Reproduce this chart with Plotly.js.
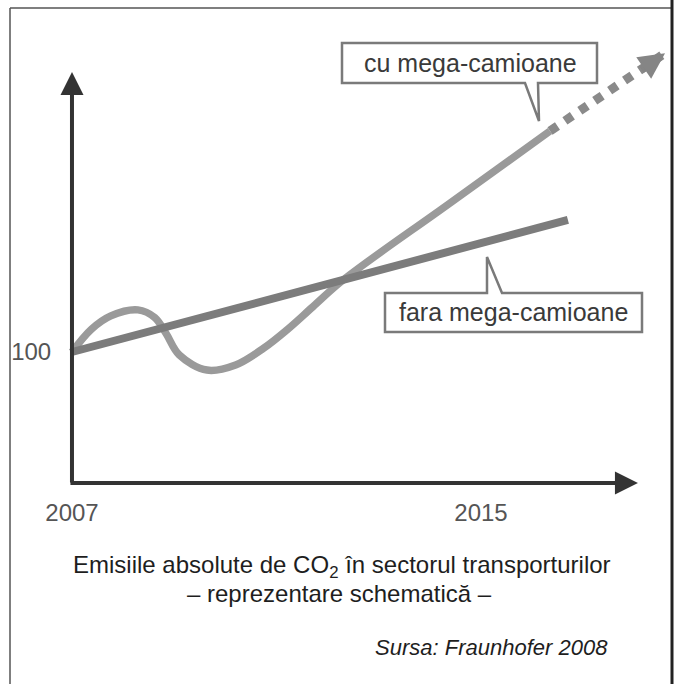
<!DOCTYPE html>
<html><head><meta charset="utf-8">
<script src="https://cdn.plot.ly/plotly-3.0.1.min.js"></script>
<style>html,body{margin:0;padding:0;background:#fff;}#chart{width:679px;height:684px;}</style>
</head><body><div id="chart"></div>
<script>
const W = 679, H = 684;
// ---- data (schematic values) ----
const tickYears = [2007, 2015];
const tickLabels = ['2007', '2015'];
const yTicks = [100];
const yTickLabels = ['100'];
const faraYears = [2007, 2016.7];
const faraValues = [100, 130.7];
const cuYears = [2007, 2007.38, 2007.76, 2008.29, 2008.62, 2008.84, 2009.1, 2009.64, 2010.2, 2010.75, 2011.2, 2011.71, 2012.3, 2014.39, 2016.35];
const cuValues = [100, 105.3, 108.4, 109.8, 108.0, 104.3, 99.3, 95.8, 97.0, 100.9, 105.1, 110.5, 116.7, 134.6, 151.4];
const cuProjYears = [2016.35, 2018.6];
const cuProjValues = [151.4, 169.5];
const axisX = [2006.96, 2018.07];   // horizontal axis extent (years)
const axisY = [69.53, 165.1];       // vertical axis extent (index)
const labelCu = 'cu mega-camioane';
const labelFara = 'fara mega-camioane';
const captionLine1 = 'Emisiile absolute de CO<sub>2</sub> în sectorul transporturilor';
const captionLine2 = '– reprezentare schematică –';
const sourceText = 'Sursa: Fraunhofer 2008';

const FONT = 'Liberation Sans, Arial, Helvetica, sans-serif';
const px = x => x / W;
const py = y => 1 - y / H;
const P = pts => 'M' + pts.map(p => px(p[0]) + ',' + py(p[1])).join(' L') + ' Z';

const traces = [
  {x: cuYears, y: cuValues, mode: 'lines', line: {color: '#9a9a9a', width: 7.5, shape: 'spline', smoothing: 1}, hoverinfo: 'skip'},
  {x: cuProjYears, y: cuProjValues, mode: 'lines', line: {color: '#8a8a8a', width: 9, dash: 'dot'}, hoverinfo: 'skip'},
  {x: faraYears, y: faraValues, mode: 'lines', line: {color: '#7c7c7c', width: 8}, hoverinfo: 'skip'}
];

const layout = {
  width: W, height: H,
  margin: {l: 0, r: 0, t: 0, b: 0},
  paper_bgcolor: '#fff', plot_bgcolor: 'rgba(0,0,0,0)',
  showlegend: false,
  font: {family: FONT},
  xaxis: {
    range: [2005.592, 2018.873], anchor: 'free', position: 1 - 481 / H,
    showline: false, showgrid: false, zeroline: false,
    tickmode: 'array', tickvals: tickYears, ticktext: tickLabels,
    ticks: 'outside', ticklen: 10, tickcolor: 'rgba(0,0,0,0)',
    tickfont: {size: 24, color: '#555', family: FONT}, fixedrange: true
  },
  yaxis: {
    range: [22.79, 181.86], anchor: 'free', position: 72 / W,
    showline: false, showgrid: false, zeroline: false,
    tickmode: 'array', tickvals: yTicks, ticktext: yTickLabels,
    ticks: 'outside', ticklen: 16, tickcolor: 'rgba(0,0,0,0)',
    tickfont: {size: 24, color: '#555', family: FONT}, fixedrange: true
  },
  shapes: [
    // page frame
    {type: 'line', xref: 'paper', yref: 'paper', x0: px(10), y0: py(8), x1: px(672), y1: py(8), line: {color: '#555', width: 1.5}},
    {type: 'line', xref: 'paper', yref: 'paper', x0: px(10), y0: py(8), x1: px(10), y1: py(684), line: {color: '#555', width: 1.5}},
    {type: 'line', xref: 'paper', yref: 'paper', x0: px(672), y0: py(0), x1: px(672), y1: py(684), line: {color: '#222', width: 3}},
    // callout boxes with pointers
    {type: 'path', xref: 'paper', yref: 'paper', layer: 'above',
     path: P([[342, 43], [597, 43], [597, 83], [538, 83], [539, 121], [525, 83], [342, 83]]),
     fillcolor: '#fff', line: {color: '#7a7a7a', width: 2.5}},
    {type: 'path', xref: 'paper', yref: 'paper', layer: 'above',
     path: P([[385, 293], [487, 293], [487, 257], [502, 293], [642, 293], [642, 332], [385, 332]]),
     fillcolor: '#fff', line: {color: '#7a7a7a', width: 2.5}}
  ],
  annotations: [
    // axes with arrowheads
    {xref: 'x', yref: 'y', axref: 'x', ayref: 'y', x: axisX[1], y: axisY[0], ax: axisX[0], ay: axisY[0],
     text: '', showarrow: true, arrowhead: 2, arrowsize: 1.15, arrowwidth: 4, arrowcolor: '#333', standoff: 0, borderpad: 0},
    {xref: 'x', yref: 'y', axref: 'x', ayref: 'y', x: tickYears[0], y: axisY[1], ax: tickYears[0], ay: axisY[0],
     text: '', showarrow: true, arrowhead: 2, arrowsize: 1.15, arrowwidth: 4, arrowcolor: '#333', standoff: 0, borderpad: 0},
    // projection arrowhead
    {xref: 'x', yref: 'y', axref: 'x', ayref: 'y', x: cuProjYears[1], y: cuProjValues[1],
     ax: cuProjYears[1] - 0.47, ay: cuProjValues[1] - 3.9,
     text: '', showarrow: true, arrowhead: 2, arrowsize: 0.65, arrowwidth: 8, arrowcolor: '#858585', standoff: 0, borderpad: 0},
    // callout texts
    {xref: 'paper', yref: 'paper', x: px(470), y: py(63), text: labelCu, showarrow: false,
     font: {size: 25, color: '#3a3a3a', family: FONT}, xanchor: 'center', yanchor: 'middle'},
    {xref: 'paper', yref: 'paper', x: px(513), y: py(312), text: labelFara, showarrow: false,
     font: {size: 25, color: '#3a3a3a', family: FONT}, xanchor: 'center', yanchor: 'middle'},
    // caption
    {xref: 'paper', yref: 'paper', x: px(342), y: py(566), text: captionLine1, showarrow: false,
     font: {size: 24, color: '#1e1e1e', family: FONT}, xanchor: 'center', yanchor: 'middle'},
    {xref: 'paper', yref: 'paper', x: px(339), y: py(593), text: captionLine2, showarrow: false,
     font: {size: 24, color: '#1e1e1e', family: FONT}, xanchor: 'center', yanchor: 'middle'},
    {xref: 'paper', yref: 'paper', x: px(610), y: py(647), text: '<i>' + sourceText + '</i>', showarrow: false,
     font: {size: 22, color: '#1e1e1e', family: FONT}, xanchor: 'right', yanchor: 'middle'}
  ]
};

Plotly.newPlot('chart', traces, layout, {staticPlot: true, displayModeBar: false});
</script></body></html>
